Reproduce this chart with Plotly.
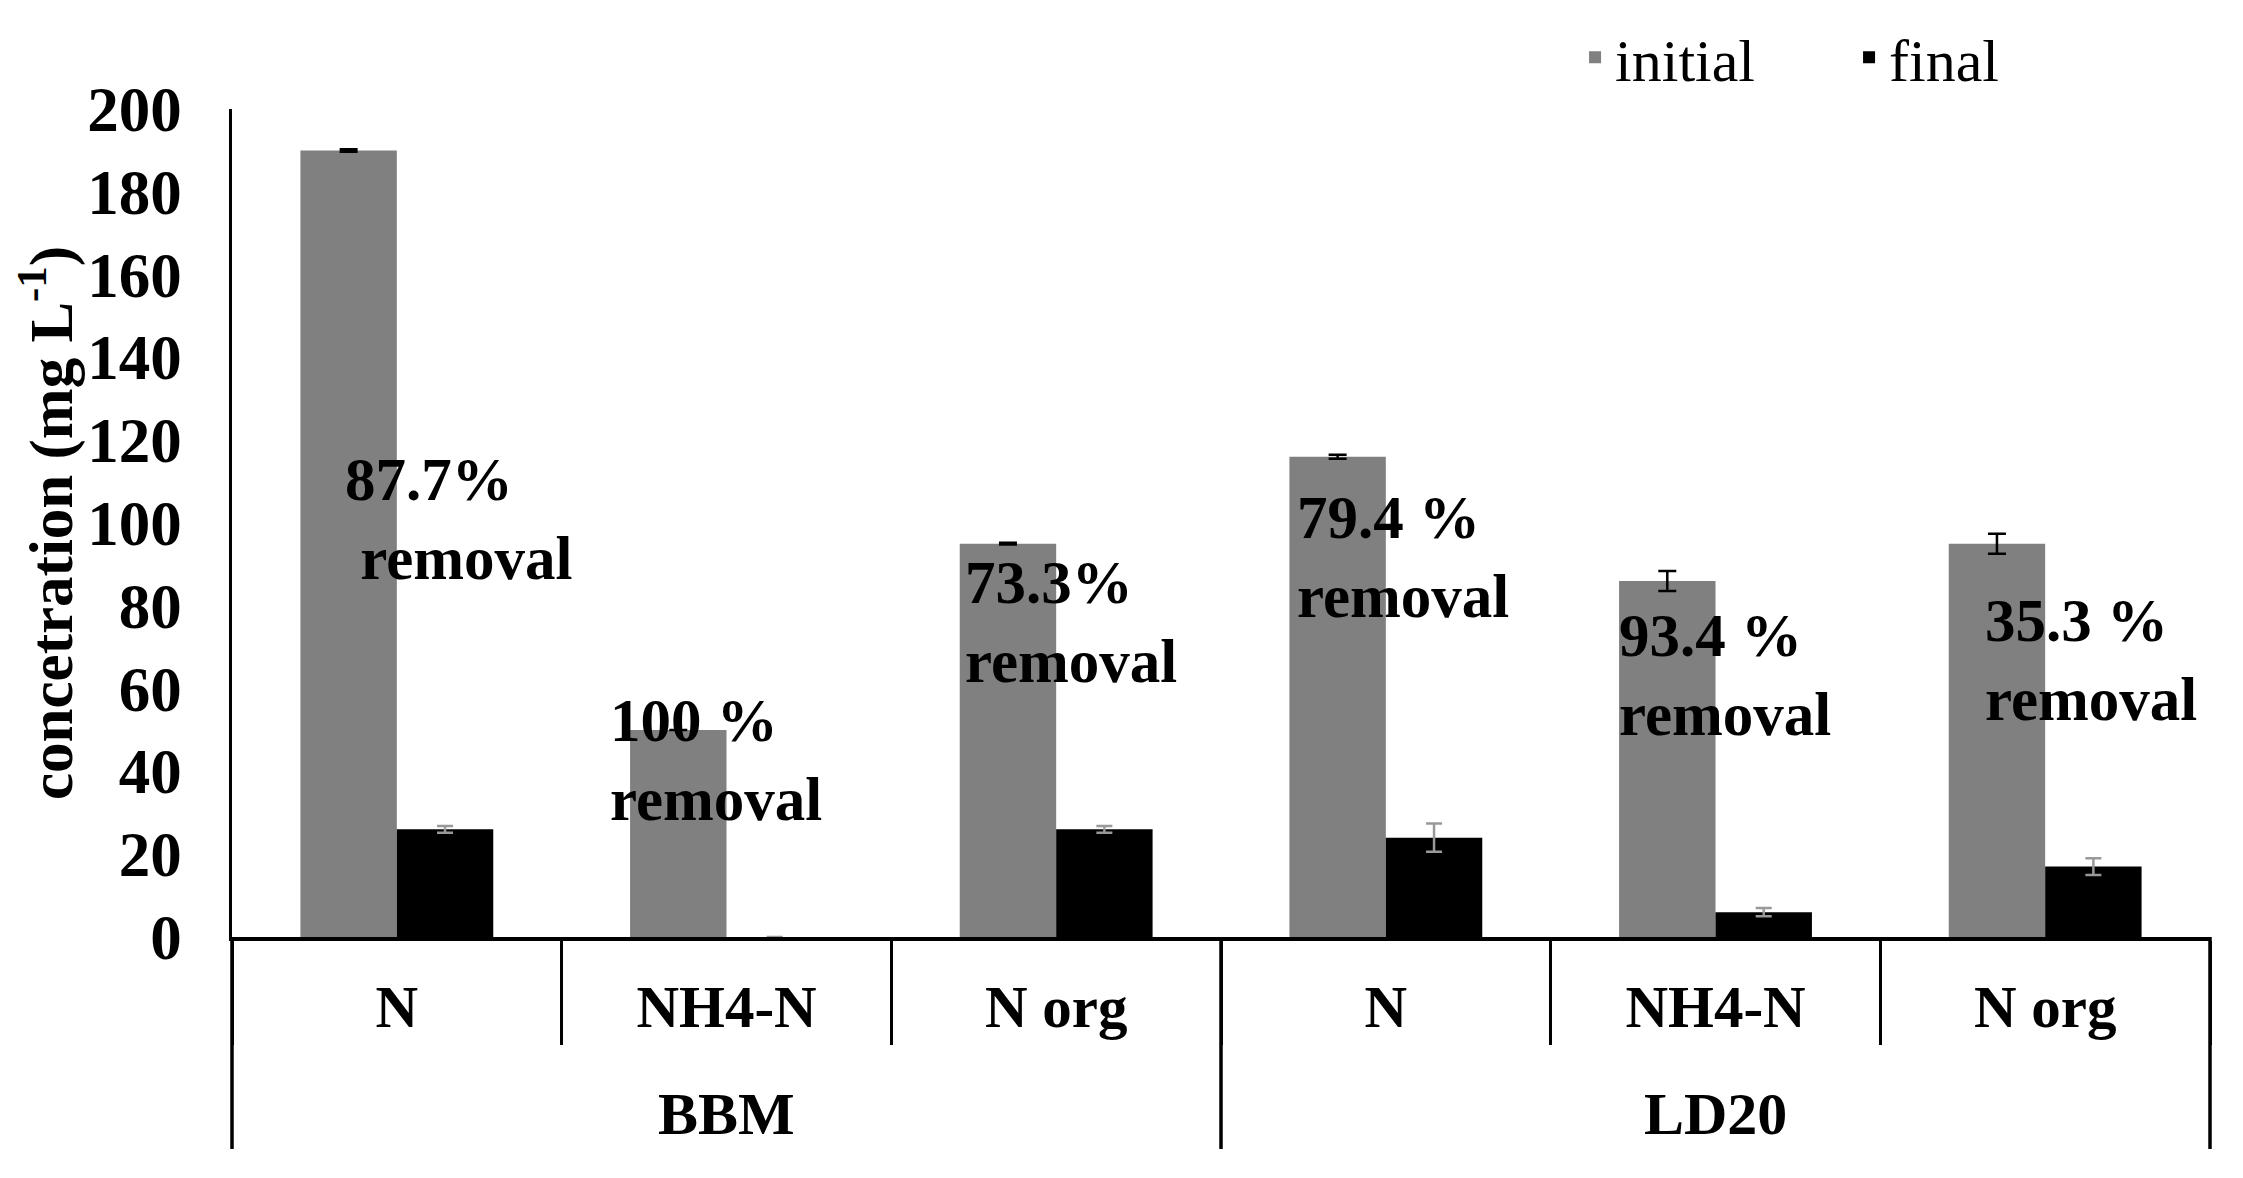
import plotly.graph_objects as go

# ---- data ----
media = ["BBM", "LD20"]
forms = ["N", "NH4-N", "N org"]
initial = [190, 50, 95, 116, 86, 95]
initial_err = [0.3, 0, 0.2, 0.5, 2.4, 2.4]
final = [26, 0, 26, 24, 6, 17]
final_err = [0.8, 0, 0.8, 3.4, 1.0, 2.0]
removal_pct = ["87.7%", "100 %", "73.3%", "79.4 %", "93.4 %", "35.3 %"]
removal_word = [" removal", "removal", "removal", "removal", "removal", "removal"]
y_ticks = list(range(0, 201, 20))

# ---- annotation placement (relative to category index / y units) ----
label_dx = [-0.162, -0.36, -0.284, -0.277, -0.300, -0.19]
label_y = [100.9, 42.7, 76.0, 91.9, 63.4, 67.0]

n_cat = len(media) * len(forms)
xpos = list(range(n_cat))
xlabels = [f for m in media for f in forms]

SERIF = "Liberation Serif"

fig = go.Figure()
fig.add_trace(go.Bar(
    x=xpos, y=initial, name="initial",
    marker=dict(color="#808080", line=dict(width=0)),
    error_y=dict(type="data", array=initial_err, visible=True,
                 color="black", thickness=2.5, width=9),
))
fig.add_trace(go.Bar(
    x=xpos, y=final, name="final",
    marker=dict(color="#000000", line=dict(width=0)),
    error_y=dict(type="data", array=final_err, visible=True,
                 color="#999999", thickness=2.5, width=8),
))

# removal annotations
for i in range(n_cat):
    fig.add_annotation(
        x=xpos[i] + label_dx[i], y=label_y[i], xref="x", yref="y",
        text=removal_pct[i] + "<br>" + removal_word[i],
        showarrow=False, xanchor="left", yanchor="middle", align="left",
        font=dict(family=SERIF, size=61, color="black", weight="bold"),
    )

# outer group labels and dividers
x_lo, x_hi = -0.5, n_cat - 0.5
nf = len(forms)
for g, m in enumerate(media):
    idx = xpos[g * nf:(g + 1) * nf]
    fig.add_annotation(
        x=sum(idx) / len(idx), y=-0.214, xref="x", yref="paper",
        text=m, showarrow=False, yanchor="middle",
        font=dict(family=SERIF, size=60, color="black", weight="bold"),
    )
bounds = [x_lo + g * nf for g in range(len(media) + 1)]
for b in bounds:
    f = (b - x_lo) / (x_hi - x_lo)
    fig.add_shape(type="line", xref="paper", yref="paper",
                  x0=f, x1=f, y0=0, y1=-0.256,
                  line=dict(color="black", width=3.5))

fig.update_layout(
    width=2243, height=1178,
    margin=dict(l=224, r=41, t=101, b=249, autoexpand=False),
    paper_bgcolor="white", plot_bgcolor="white",
    barmode="group", bargap=0.415, bargroupgap=0,
    showlegend=True,
    legend=dict(orientation="h", x=0.679, xanchor="left", y=1.0625, yanchor="middle",
                font=dict(family=SERIF, size=60, color="black"),
                entrywidth=229, bgcolor="rgba(0,0,0,0)"),
    font=dict(family=SERIF, color="black"),
)

fig.update_xaxes(
    range=[x_lo, x_hi], tickmode="array", tickvals=xpos, ticktext=xlabels,
    ticks="", showline=True, linecolor="black", linewidth=3.5,
    showgrid=False, zeroline=False, ticklabelstandoff=15, automargin=False,
    tickfont=dict(family=SERIF, size=59, color="black", weight="bold"),
    minor=dict(tickmode="array", tickvals=[x_lo + k for k in range(n_cat + 1)],
               ticks="outside", ticklen=104, tickwidth=2.5, tickcolor="black",
               showgrid=False),
)
fig.update_yaxes(
    range=[0, 200], tickmode="array", tickvals=y_ticks, ticks="",
    showline=True, linecolor="black", linewidth=2.5,
    showgrid=False, zeroline=False, ticklabelstandoff=35, automargin=False,
    tickfont=dict(family=SERIF, size=63, color="black", weight="bold"),
    title=dict(text="concetration (mg L<sup>-1</sup>)", standoff=0,
               font=dict(family=SERIF, size=61, color="black", weight="bold")),
)

fig.write_html("out.html")
